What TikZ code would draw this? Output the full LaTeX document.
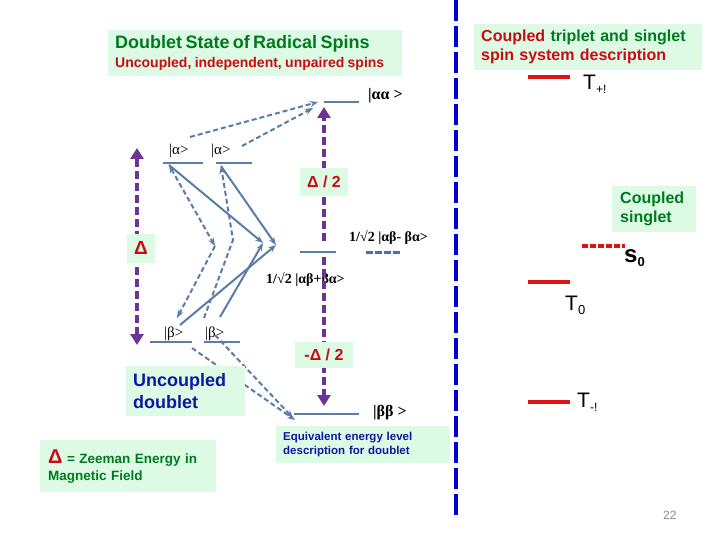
\documentclass[tikz,border=0pt]{standalone}
\usepackage{fontspec}
\setmainfont{Liberation Sans}
\newfontfamily\kfont{Liberation Serif}
\usetikzlibrary{arrows.meta}

\definecolor{boxgreen}{RGB}{220,250,228}
\definecolor{txtgreen}{RGB}{0,122,30}
\definecolor{txtred}{RGB}{200,12,20}
\definecolor{txtblue}{RGB}{12,24,160}
\definecolor{levelblue}{RGB}{90,125,168}
\definecolor{spinpurple}{RGB}{108,52,148}
\definecolor{divblue}{RGB}{0,0,210}
\definecolor{tripred}{RGB}{222,20,20}

\begin{document}
\begin{tikzpicture}[x=1pt,y=-1pt,
  greenbox/.style={fill=boxgreen, inner xsep=7pt, inner ysep=0pt, align=left, anchor=north west},
  midbox/.style={fill=boxgreen, inner sep=0pt, text=txtred, font=\fontsize{16}{16}\selectfont\bfseries},
  lvl/.style={levelblue, line width=1.2pt},
  trip/.style={tripred, line width=4pt},
  zee/.style={spinpurple, line width=4pt, dash pattern=on 8pt off 4pt, >={Triangle[width=13pt,length=11pt]}},
  link/.style={levelblue, line width=2pt, >={Stealth[length=8pt,width=6pt]}},
  dlink/.style={link, dash pattern=on 5pt off 3pt},
  ket/.style={font=\kfont\fontsize{15}{15}\selectfont, inner sep=0pt, anchor=base west},
  tlab/.style={font=\fontsize{21}{21}\selectfont, inner sep=0pt, anchor=base west}]
  \useasboundingbox (0,0) rectangle (720,540);

  % energy levels
  \coordinate (aaL) at (324,102); \coordinate (aaR) at (359,102);
  \coordinate (mdL) at (300,252); \coordinate (mdR) at (336,252);
  \coordinate (bbL) at (294,414); \coordinate (bbR) at (359,414);
  \coordinate (a1L) at (163,163); \coordinate (a1R) at (203,163);
  \coordinate (a2L) at (216,163); \coordinate (a2R) at (252,163);
  \coordinate (b1L) at (150,342); \coordinate (b1R) at (192,342);
  \coordinate (b2L) at (204,342); \coordinate (b2R) at (240,342);
  \coordinate (sgL) at (366,252); \coordinate (sgR) at (401,252);
  \foreach \l in {aa,md,bb,a1,a2,b1,b2} \draw[lvl] (\l L) -- (\l R);
  \draw[levelblue!85!blue, line width=3pt, dash pattern=on 7pt off 2pt] (sgL) -- (sgR);

  \node[ket, font=\kfont\bfseries\fontsize{16}{16}\selectfont] (kaa) at (368,100) {|αα >};
  \node[ket, font=\kfont\bfseries\fontsize{16}{16}\selectfont] (kbb) at (373,416) {|ββ >};
  \node[ket] (ka1) at (169,155) {|α>};
  \node[ket] (ka2) at (211,155) {|α>};
  \node[ket] (kb1) at (164,337) {|β>};
  \node[ket] (kb2) at (205,337) {|β>};
  \node[ket, font=\kfont\bfseries\fontsize{14}{14}\selectfont] (kminus) at (349,241) {1/√2 |αβ- βα>};
  \node[ket, font=\kfont\bfseries\fontsize{14}{14}\selectfont] (kplus) at (266,283) {1/√2 |αβ+βα>};

  % pairing of the two spins
  \coordinate (a1) at (169,165); \coordinate (a2) at (221,166);
  \coordinate (pA) at (263,243); \coordinate (pB) at (276,245);
  \coordinate (b1) at (180,325); \coordinate (b2) at (220,317);
  \coordinate (m1) at (215,246); \coordinate (m2) at (233,240);
  \coordinate (e1) at (177,318); \coordinate (e2) at (204,318);
  \draw[link,->] (a1) -- (pA);
  \draw[link,->] (b2) -- (pA);
  \draw[link,->] (a2) -- (pB);
  \draw[link,->] (b1) -- (pB);
  \draw[dlink,<->] (a1) -- (m1);
  \draw[dlink,->] (m1) -- (e1);
  \draw[dlink,->] (e2) -- (m2) -- (a2);

  \coordinate (s1) at (190,137); \coordinate (s2) at (242,146);
  \coordinate (t1) at (318,102); \coordinate (t2) at (313,108);
  \coordinate (u1) at (192,348); \coordinate (u2) at (215,335);
  \coordinate (v1) at (295,420); \coordinate (v2) at (293,418);
  \draw[dlink,->] (s1) -- (t1);
  \draw[dlink,->] (s2) -- (t2);
  \draw[dlink,->] (u1) -- (v1);
  \draw[dlink,->] (u2) -- (v2);

  % Zeeman splitting
  \coordinate (zlT) at (137,148); \coordinate (zlB) at (137,345);
  \coordinate (zmT) at (324,107); \coordinate (zmU) at (324,241);
  \coordinate (zmD) at (324,257); \coordinate (zmB) at (324,406);
  \draw[zee,<->] (zlB) -- (zlT);
  \draw[zee,->] (zmU) -- (zmT);
  \draw[zee,->] (zmD) -- (zmB);
  \node[midbox, minimum width=28pt, minimum height=29pt, font=\fontsize{19}{19}\selectfont\bfseries] (dfull) at (141,248) {Δ};
  \node[midbox, minimum width=48pt, minimum height=28pt] (dhalf) at (324,182) {Δ / 2};
  \node[midbox, minimum width=58pt, minimum height=26pt] (dneg) at (324,355) {-Δ / 2};

  % text boxes
  \node[greenbox, minimum width=294pt, minimum height=46pt, text width=280pt] (title) at (108,30)
    {\fontsize{18}{18}\selectfont\bfseries\color{txtgreen}Doublet State of Radical Spins\\[4pt]
     \fontsize{14}{18}\selectfont\color{txtred}Uncoupled, independent, unpaired spins};
  \node[greenbox, minimum width=119pt, minimum height=50pt, text width=105pt,
        font=\fontsize{18}{22}\selectfont\bfseries, text=txtblue] (uncoup) at (126,366) {Uncoupled\\doublet};
  \node[greenbox, minimum width=176pt, minimum height=52pt, text width=160pt, inner xsep=8pt,
        font=\fontsize{13.5}{17}\selectfont\bfseries, text=txtgreen] (zeeman) at (40,440)
    {{\color{txtred}\fontsize{20}{17}\selectfont Δ} = Zeeman Energy in\\Magnetic Field};
  \node[greenbox, minimum width=174pt, minimum height=37pt, text width=160pt,
        font=\fontsize{11.5}{14}\selectfont\bfseries, text=txtblue] (equiv) at (276,426)
    {Equivalent energy level\\description for doublet};

  % divider
  \coordinate (divT) at (456,0); \coordinate (divB) at (456,515);
  \draw[divblue, line width=4.5pt, dash pattern=on 21pt off 5pt] (divT) -- (divB);

  % coupled picture
  \node[greenbox, minimum width=228pt, minimum height=46pt, text width=214pt,
        font=\fontsize{16}{19}\selectfont\bfseries] (coupled) at (474,24)
    {{\color{txtred}Coupled} {\color{txtgreen}triplet and singlet}\\{\color{txtred}spin system description}};
  \node[greenbox, minimum width=84pt, minimum height=46pt, text width=68pt, inner xsep=8pt,
        font=\fontsize{16}{19}\selectfont\bfseries, text=txtgreen] (singbox) at (612,186) {Coupled\\singlet};

  \coordinate (tpL) at (528,77);  \coordinate (tpR) at (570,77);
  \coordinate (t0L) at (528,282); \coordinate (t0R) at (570,282);
  \coordinate (tmL) at (528,402); \coordinate (tmR) at (570,402);
  \coordinate (s0L) at (582,246); \coordinate (s0R) at (625,246);
  \draw[trip] (tpL) -- (tpR);
  \draw[trip] (t0L) -- (t0R);
  \draw[trip] (tmL) -- (tmR);
  \draw[trip, dash pattern=on 6pt off 2pt] (s0L) -- (s0R);

  \node[tlab] (tplus) at (583,90) {T\raisebox{-4pt}{\fontsize{12}{12}\selectfont +!}};
  \node[tlab] (tzero) at (565,310) {T\raisebox{-4pt}{\fontsize{13}{13}\selectfont 0}};
  \node[tlab] (tminus) at (577,407) {T\raisebox{-4pt}{\fontsize{12}{12}\selectfont -!}};
  \node[tlab, font=\fontsize{24}{24}\selectfont\bfseries] (szero) at (624,262) {s\raisebox{-4pt}{\fontsize{13}{13}\selectfont 0}};

  \node[inner sep=0pt, anchor=base west, text=black!45, font=\fontsize{12}{12}\selectfont] (page) at (663,519) {22};
\end{tikzpicture}
\end{document}
